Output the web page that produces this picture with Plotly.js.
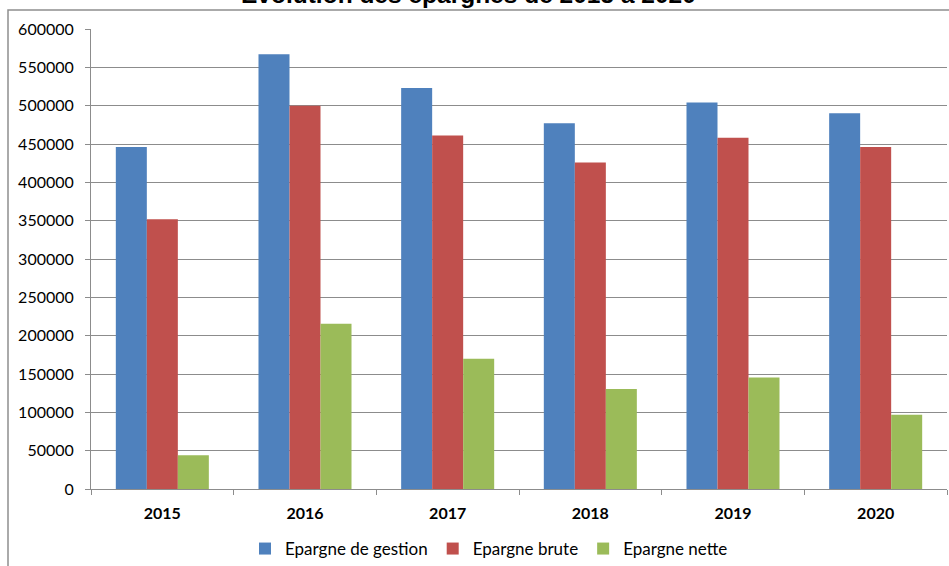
<!DOCTYPE html>
<html>
<head>
<meta charset="utf-8">
<script src="https://cdn.plot.ly/plotly-3.0.1.min.js"></script>
<style>
  html, body { margin: 0; padding: 0; background: #fff; }
  #chart { width: 949px; height: 566px; }
</style>
</head>
<body>
<div id="chart"></div>
<script>
const years = ["2015", "2016", "2017", "2018", "2019", "2020"];
const epargneGestion = [446000, 567000, 523000, 477000, 504000, 490000];
const epargneBrute   = [352000, 500000, 461000, 426000, 458000, 446000];
const epargneNette   = [44000, 215500, 170000, 130500, 145500, 97000];
const seriesNames = ["Epargne de gestion", "Epargne brute", "Epargne nette"];
const titleText = "Evolution des épargnes de 2015 à 2020";

const colors = ["#4F81BD", "#C0504D", "#9BBB59"];
const valuesList = [epargneGestion, epargneBrute, epargneNette];

const data = valuesList.map((vals, i) => ({
  type: "bar",
  x: years,
  y: vals,
  name: seriesNames[i],
  marker: { color: colors[i], line: { width: 0 } },
  hoverinfo: "x+y+name"
}));

const W = 949, H = 566;
const mL = 91, mR = 2, mT = 28.5, mB = 76.5;
const pw = W - mL - mR, ph = H - mT - mB;

const layout = {
  width: W, height: H,
  margin: { l: mL, r: mR, t: mT, b: mB, pad: 0, autoexpand: false },
  paper_bgcolor: "#ffffff",
  plot_bgcolor: "#ffffff",
  barmode: "group",
  bargap: 0.348,
  bargroupgap: 0,
  showlegend: true,
  legend: {
    orientation: "h",
    xref: "paper",
    x: (489 - mL) / pw, xanchor: "center",
    yref: "container",
    y: (H - 549) / H, yanchor: "middle",
    font: { family: "Lato, sans-serif", size: 17, color: "#000" },
    itemwidth: 30,
    traceorder: "normal"
  },
  xaxis: {
    type: "category",
    tickson: "boundaries",
    ticks: "outside",
    ticklen: 5,
    tickcolor: "#8c8c8c",
    showline: true,
    linecolor: "#8c8c8c",
    linewidth: 1,
    showgrid: false,
    ticklabelstandoff: 10,
    tickfont: { family: "Lato, sans-serif", size: 16, color: "#000", weight: "bold" },
    fixedrange: true
  },
  yaxis: {
    range: [0, 600000],
    dtick: 50000,
    tick0: 0,
    tickformat: "d",
    ticks: "outside",
    ticklen: 5,
    tickcolor: "#8c8c8c",
    showline: true,
    linecolor: "#8c8c8c",
    linewidth: 1,
    showgrid: true,
    gridcolor: "#8c8c8c",
    gridwidth: 1,
    zeroline: false,
    ticklabelstandoff: 8,
    tickfont: { family: "Lato, sans-serif", size: 16, color: "#000" },
    fixedrange: true
  },
  annotations: [{
    text: "<b>" + titleText + "</b>",
    xref: "paper", yref: "paper",
    x: (468 - mL) / pw, xanchor: "center",
    y: (H - mB + 6) / ph, yanchor: "middle",
    showarrow: false,
    font: { family: "Liberation Sans, Arial, sans-serif", size: 24.5, color: "#000" }
  }],
  shapes: [{
    type: "rect", xref: "paper", yref: "paper",
    x0: (8 - mL) / pw, x1: 1.2,
    y0: -0.5, y1: (H - mB - 9.5) / ph,
    line: { color: "#8f8f8f", width: 1.5 },
    fillcolor: "rgba(0,0,0,0)",
    layer: "below"
  }]
};

Plotly.newPlot("chart", data, layout, { displayModeBar: false, staticPlot: true });
</script>
</body>
</html>
